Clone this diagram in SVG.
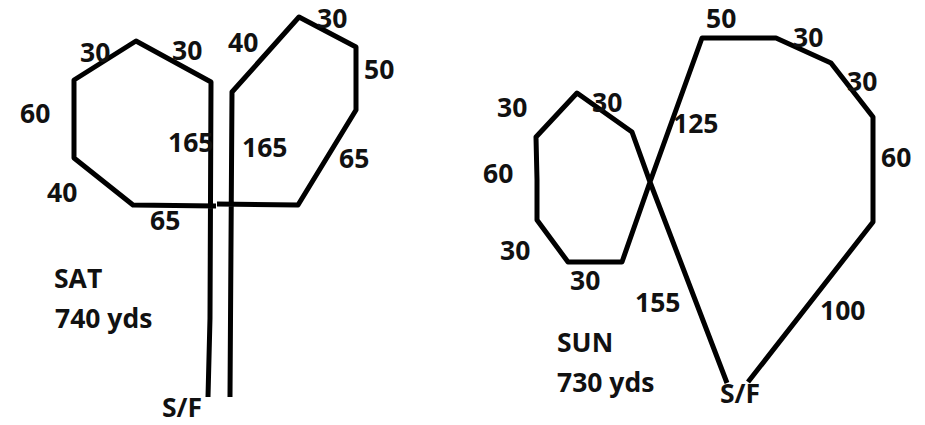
<svg xmlns="http://www.w3.org/2000/svg" width="925" height="425" viewBox="0 0 925 425">
<style>
.route{fill:none;stroke:#000;stroke-width:5;stroke-linejoin:round;stroke-linecap:butt}
text{font-family:"Open Sans","Liberation Sans",sans-serif;font-weight:700;font-size:26.5px;fill:#111}
</style>
<rect width="925" height="425" fill="#fff"/>
<g id="sat">
<polyline class="route" points="208,397 210,318 211,82 136,41 74,80 74,158 133,205 216,206"/>
<polyline class="route" points="217,204 298,205 356,110 356,47 299,17 232,92 231,243 230,397"/>
<text x="80" y="62">30</text>
<text x="172" y="60">30</text>
<text x="20" y="123">60</text>
<text x="47" y="202">40</text>
<text x="150" y="230">65</text>
<text x="168" y="152">165</text>
<text x="242" y="157">165</text>
<text x="228" y="52">40</text>
<text x="317" y="28">30</text>
<text x="364" y="79">50</text>
<text x="339" y="168">65</text>
<text x="54" y="288">SAT</text>
<text x="55" y="328">740 yds</text>
<text x="162" y="417">S/F</text>
</g>
<g id="sun">
<polyline class="route" points="727,383 650,182 632,132 577,93 536,137 537,180 537,220 568,262 622,262 650,182 702,38 776,38 831,63 873,117 873,222 748,382"/>
<text x="706" y="28">50</text>
<text x="793" y="47">30</text>
<text x="847" y="91">30</text>
<text x="881" y="167">60</text>
<text x="673" y="133">125</text>
<text x="497" y="117">30</text>
<text x="592" y="112">30</text>
<text x="483" y="183">60</text>
<text x="500" y="260">30</text>
<text x="570" y="290">30</text>
<text x="635" y="312">155</text>
<text x="820" y="320">100</text>
<text x="557" y="352">SUN</text>
<text x="557" y="392">730 yds</text>
<text x="720" y="403">S/F</text>
</g>
</svg>
